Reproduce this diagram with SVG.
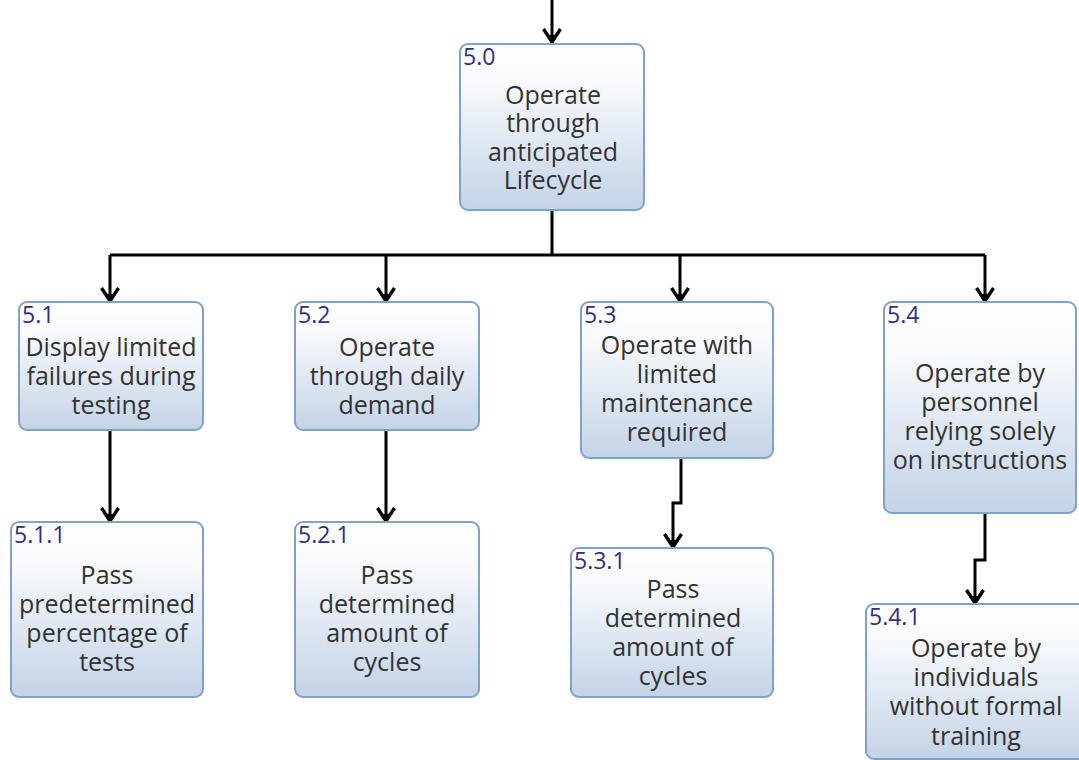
<svg xmlns="http://www.w3.org/2000/svg" width="1079" height="760" viewBox="0 0 1079 760">
  <defs>
    <linearGradient id="boxFill" x1="0" y1="0" x2="0" y2="1">
      <stop offset="0" stop-color="#ffffff"/>
      <stop offset="0.25" stop-color="#f7f9fc"/>
      <stop offset="1" stop-color="#c3d3e6"/>
    </linearGradient>
    <marker id="arrow" viewBox="0 0 18 20" refX="16" refY="10" markerWidth="18" markerHeight="20" markerUnits="userSpaceOnUse" orient="auto">
      <path d="M2,1.5 L15,10 L2,18.5" fill="none" stroke="#000" stroke-width="3.4" stroke-linejoin="miter"/>
      <path d="M8,6 L15,10 L8,14 Z" fill="#000"/>
    </marker>
  </defs>
  <style>
    .box { fill: url(#boxFill); stroke: #7ea2c8; stroke-width: 2; }
    .id { font-family: "Open Sans", "Noto Sans", sans-serif; font-size: 23px; fill: #2f2f85; }
    .txt { font-family: "Open Sans", "Noto Sans", sans-serif; font-size: 25px; fill: #333333; text-anchor: middle; }
    .wire { fill: none; stroke: #000; stroke-width: 3; marker-end: url(#arrow); }
    .bus { fill: none; stroke: #000; stroke-width: 3; }
  </style>
  <rect width="1079" height="760" fill="#ffffff"/>

  <g id="connectors">
    <path class="wire" d="M552,0 V43"/>
    <path class="bus" d="M552,210 V255 M110,255 H985"/>
    <path class="wire" d="M110,255 V302"/>
    <path class="wire" d="M386,255 V302"/>
    <path class="wire" d="M680,255 V302"/>
    <path class="wire" d="M985,255 V302"/>
    <path class="wire" d="M110,430 V522"/>
    <path class="wire" d="M386,430 V522"/>
    <path class="wire" d="M681,458 V503 H673 V548"/>
    <path class="wire" d="M985,513 V560 H975 V604"/>
  </g>

  <g id="n5_0">
    <rect class="box" x="460" y="44" width="184" height="166" rx="8"/>
    <text class="id" x="463" y="65">5.0</text>
    <text class="txt" x="553" y="104">Operate</text>
    <text class="txt" x="553" y="132">through</text>
    <text class="txt" x="553" y="161">anticipated</text>
    <text class="txt" x="553" y="189">Lifecycle</text>
  </g>

  <g id="n5_1">
    <rect class="box" x="19" y="302" width="184" height="128" rx="8"/>
    <text class="id" x="22" y="323">5.1</text>
    <text class="txt" x="111" y="356">Display limited</text>
    <text class="txt" x="111" y="385">failures during</text>
    <text class="txt" x="111" y="414">testing</text>
  </g>

  <g id="n5_2">
    <rect class="box" x="295" y="302" width="184" height="128" rx="8"/>
    <text class="id" x="298" y="323">5.2</text>
    <text class="txt" x="387" y="356">Operate</text>
    <text class="txt" x="387" y="385">through daily</text>
    <text class="txt" x="387" y="414">demand</text>
  </g>

  <g id="n5_3">
    <rect class="box" x="581" y="302" width="192" height="156" rx="8"/>
    <text class="id" x="584" y="323">5.3</text>
    <text class="txt" x="677" y="354">Operate with</text>
    <text class="txt" x="677" y="383">limited</text>
    <text class="txt" x="677" y="412">maintenance</text>
    <text class="txt" x="677" y="441">required</text>
  </g>

  <g id="n5_4">
    <rect class="box" x="884" y="302" width="192" height="211" rx="8"/>
    <text class="id" x="887" y="323">5.4</text>
    <text class="txt" x="980" y="382">Operate by</text>
    <text class="txt" x="980" y="411">personnel</text>
    <text class="txt" x="980" y="440">relying solely</text>
    <text class="txt" x="980" y="469">on instructions</text>
  </g>

  <g id="n5_1_1">
    <rect class="box" x="11" y="522" width="192" height="175" rx="8"/>
    <text class="id" x="14" y="543">5.1.1</text>
    <text class="txt" x="107" y="584">Pass</text>
    <text class="txt" x="107" y="613">predetermined</text>
    <text class="txt" x="107" y="642">percentage of</text>
    <text class="txt" x="107" y="671">tests</text>
  </g>

  <g id="n5_2_1">
    <rect class="box" x="295" y="522" width="184" height="175" rx="8"/>
    <text class="id" x="298" y="543">5.2.1</text>
    <text class="txt" x="387" y="584">Pass</text>
    <text class="txt" x="387" y="613">determined</text>
    <text class="txt" x="387" y="642">amount of</text>
    <text class="txt" x="387" y="671">cycles</text>
  </g>

  <g id="n5_3_1">
    <rect class="box" x="571" y="548" width="202" height="149" rx="8"/>
    <text class="id" x="574" y="569">5.3.1</text>
    <text class="txt" x="673" y="598">Pass</text>
    <text class="txt" x="673" y="627">determined</text>
    <text class="txt" x="673" y="656">amount of</text>
    <text class="txt" x="673" y="685">cycles</text>
  </g>

  <g id="n5_4_1">
    <rect class="box" x="866" y="604" width="230" height="155" rx="8"/>
    <text class="id" x="869" y="625">5.4.1</text>
    <text class="txt" x="976" y="657">Operate by</text>
    <text class="txt" x="976" y="686">individuals</text>
    <text class="txt" x="976" y="715">without formal</text>
    <text class="txt" x="976" y="745">training</text>
  </g>
</svg>
